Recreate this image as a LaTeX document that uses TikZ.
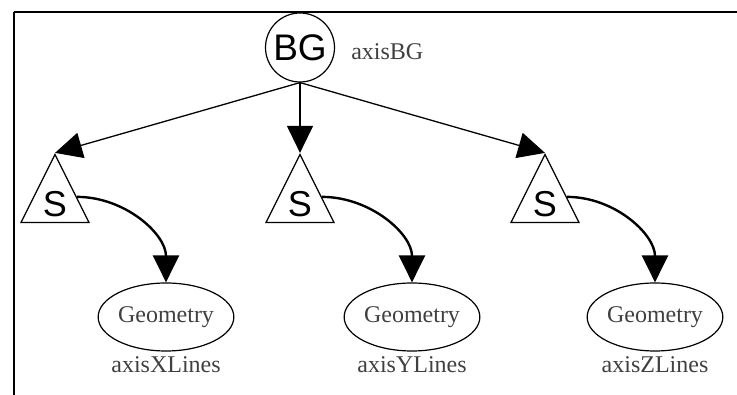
\documentclass[tikz,border=0pt]{standalone}
\usepackage{fontspec}
\setmainfont{Liberation Serif}
\newfontfamily\helv{Liberation Sans}
\usetikzlibrary{positioning,shapes.geometric,arrows.meta}

\tikzset{
  group/.style={draw, line width=1.2pt, circle, minimum size=69pt, inner sep=0pt, font=\helv\fontsize{37}{40}\selectfont},
  sw/.style={draw, line width=1.2pt, isosceles triangle, shape border rotate=90, isosceles triangle stretches,
    minimum width=68pt, minimum height=68pt, inner sep=0pt, font=\helv\fontsize{36}{38}\selectfont},
  geo/.style={draw, line width=1.2pt, ellipse, minimum width=135pt, minimum height=68pt, inner sep=0pt,
    text=black!75, font=\fontsize{24}{26}\selectfont},
  lbl/.style={text=black!75, inner sep=1pt, font=\fontsize{24}{26}\selectfont},
  child/.style={-{Triangle[length=27pt, width=26pt]}, line width=1.3pt},
  shape_link/.style={-{Triangle[length=27pt, width=26pt]}, line width=2.4pt}
}

\begin{document}
\begin{tikzpicture}[x=1pt, y=-1pt]
            \useasboundingbox (0,0) rectangle (737,395);
            % Frame
            \draw[line width=1.5pt] (14,395) -- (14,12);
            \draw[line width=2.5pt] (13.5,12) -- (737,12);

            % Nodes
            \node[group] (axis_bg) at (300,47.5) {BG};
            \node[lbl, right=15pt of axis_bg, yshift=-4pt] (axis_bg_lbl) {axisBG};

            \node[sw] (sw_x) at (55,204) {S};
            \node[sw] (sw_y) at (300,204) {S};
            \node[sw] (sw_z) at (545,204) {S};

            \node[geo] (geo_x) at (166,317) {Geometry};
            \node[geo] (geo_y) at (412,317) {Geometry};
            \node[geo] (geo_z) at (655,317) {Geometry};
            \node[lbl, below=4pt of geo_x] (geo_x_lbl) {axisXLines};
            \node[lbl, below=4pt of geo_y] (geo_y_lbl) {axisYLines};
            \node[lbl, below=4pt of geo_z] (geo_z_lbl) {axisZLines};

            % Arrows
            \draw[child] (axis_bg.south) -- (sw_x.apex);
            \draw[child] (axis_bg.south) -- (sw_y.apex);
            \draw[child] (axis_bg.south) -- (sw_z.apex);
            \draw[shape_link] (sw_x.18) to[out=0, in=90] (geo_x.north);
            \draw[shape_link] (sw_y.18) to[out=0, in=90] (geo_y.north);
            \draw[shape_link] (sw_z.18) to[out=0, in=90] (geo_z.north);
        \end{tikzpicture}
\end{document}
